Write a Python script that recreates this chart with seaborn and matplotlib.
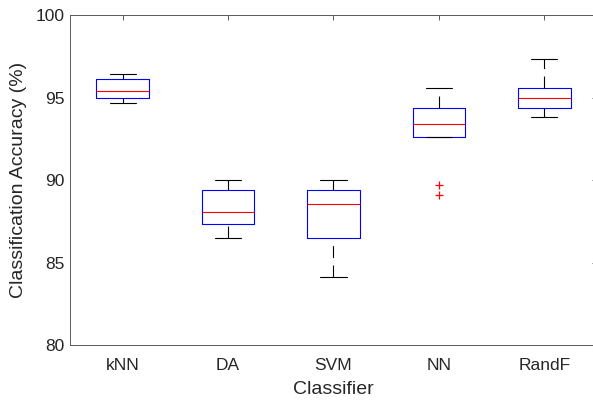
import matplotlib
matplotlib.use("Agg")
import matplotlib.pyplot as plt
import seaborn as sns
import pandas as pd

classifiers = ["kNN", "DA", "SVM", "NN", "RandF"]
knn = [94.70, 95.00, 95.43, 96.15, 96.46]
da = [86.47, 87.36, 88.07, 89.40, 89.99]
svm = [84.11, 86.47, 88.54, 89.40, 89.99]
nn = [89.12, 89.71, 92.64, 93.00, 93.39, 93.90, 94.39, 95.00, 95.57]
randf = [93.81, 94.39, 94.98, 95.57, 97.33]
y_ticks = [80, 85, 90, 95, 100]

sns.set_style("white")
plt.rcParams["font.family"] = ["Liberation Sans", "DejaVu Sans"]
plt.rcParams["lines.scale_dashes"] = False

rows = []
for name, vals in zip(classifiers, [knn, da, svm, nn, randf]):
    for v in vals:
        rows.append({"Classifier": name, "Accuracy": v})
df = pd.DataFrame(rows)

fig = plt.figure(figsize=(5.93, 4.03), dpi=100)
W, H = 593, 403
ax = fig.add_axes([70 / W, (H - 345) / H, (597 - 70) / W, (345 - 15.3) / H])

lw = 0.8
sns.boxplot(
    data=df, x="Classifier", y="Accuracy", order=classifiers, ax=ax,
    fill=False, width=0.5, whis=1.5, linewidth=lw,
    boxprops=dict(color="blue", linewidth=lw),
    medianprops=dict(color="red", linewidth=lw),
    whiskerprops=dict(color="black", linewidth=lw, linestyle=(0, (8.6, 5.4))),
    capprops=dict(color="black", linewidth=lw),
    flierprops=dict(marker="+", markeredgecolor="red", markerfacecolor="none",
                    markersize=6, markeredgewidth=0.9, linestyle="none"),
)

# MATLAB draws the dashed whiskers from bottom to top
for line in ax.lines:
    ls = line.get_linestyle()
    if ls not in ("-", "None", "none", ""):
        x, y = line.get_xdata(), line.get_ydata()
        if len(y) == 2 and y[1] < y[0]:
            line.set_data(list(x)[::-1], list(y)[::-1])

ax.set_xlim(-0.5, 4.5)
ax.set_ylim(80, 100)
ax.set_yticks(y_ticks)
ax.set_yticklabels([str(t) for t in y_ticks])

axis_color = "#262626"
for s in ax.spines.values():
    s.set_visible(True)
    s.set_color("#5a5a5a")
    s.set_linewidth(0.7)
ax.tick_params(axis="both", direction="in", length=3.6, width=0.7, color="#5a5a5a",
               labelsize=12.5, labelcolor=axis_color, top=True, right=True,
               labeltop=False, labelright=False)
ax.tick_params(axis="x", pad=9)
ax.tick_params(axis="y", pad=4)
ax.set_xlabel("Classifier", fontsize=14, color=axis_color, labelpad=6)
ax.set_ylabel("Classification Accuracy (%)", fontsize=14, color=axis_color, labelpad=6)

fig.savefig("out.png", dpi=100)
